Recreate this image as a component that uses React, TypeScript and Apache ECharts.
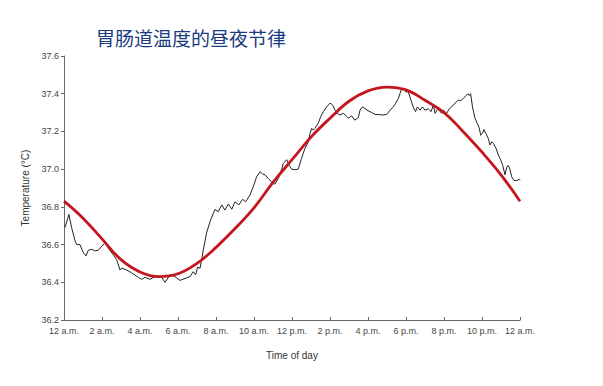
import React, { useEffect, useRef } from "react";
import * as echarts from "echarts";

const titleText = "胃肠道温度的昼夜节律";
const yAxisName = "Temperature (°C)";
const xAxisName = "Time of day";
const xTickLabels = [
  "12 a.m.", "2 a.m.", "4 a.m.", "6 a.m.", "8 a.m.", "10 a.m.", "12 p.m.",
  "2 p.m.", "4 p.m.", "6 p.m.", "8 p.m.", "10 p.m.", "12 a.m.",
];

// measured temperature (hours since midnight, °C)
const tempHours = [
  0.05, 0.26, 0.4, 0.58, 0.67, 0.84, 1.0, 1.16, 1.28, 1.46, 1.63, 1.8, 1.98, 2.16, 2.33, 2.6, 2.77, 2.95, 3.03, 3.3,
  3.56, 3.91, 4.09, 4.26, 4.53, 4.79, 5.05, 5.14, 5.32, 5.58, 5.84, 6.1, 6.37, 6.63, 6.8, 6.93, 7.03, 7.16, 7.33, 7.5,
  7.68, 7.86, 7.95, 8.12, 8.3, 8.47, 8.65, 8.83, 9.0, 9.2, 9.4, 9.56, 9.79, 9.96, 10.14, 10.32, 10.46, 10.58, 10.75, 10.93,
  11.1, 11.28, 11.46, 11.54, 11.72, 11.86, 11.98, 12.16, 12.33, 12.5, 12.68, 12.86, 12.95, 13.04, 13.12, 13.2, 13.38, 13.51, 13.65, 13.82,
  14.0, 14.14, 14.26, 14.38, 14.53, 14.7, 14.88, 14.97, 15.14, 15.3, 15.49, 15.58, 15.7, 15.84, 16.0, 16.2, 16.37, 16.54, 16.8, 16.98,
  17.16, 17.33, 17.46, 17.6, 17.68, 17.77, 17.86, 17.98, 18.12, 18.26, 18.38, 18.5, 18.6, 18.74, 18.86, 19.0, 19.17, 19.32, 19.44, 19.53,
  19.67, 19.88, 19.96, 20.14, 20.28, 20.4, 20.58, 20.75, 20.88, 21.02, 21.16, 21.25, 21.33, 21.4, 21.5, 21.63, 21.75, 21.86, 21.93, 22.03,
  22.1, 22.2, 22.33, 22.42, 22.51, 22.6, 22.74, 22.86, 22.98, 23.09, 23.21, 23.3, 23.38, 23.47, 23.56, 23.68, 23.83, 23.96, 24.0,
];
const tempValues = [
  36.69, 36.76, 36.69, 36.62, 36.6, 36.6, 36.56, 36.54, 36.57, 36.575, 36.566, 36.57, 36.59, 36.61, 36.58, 36.545, 36.52, 36.465, 36.475, 36.465,
  36.45, 36.426, 36.416, 36.426, 36.416, 36.43, 36.43, 36.426, 36.4, 36.44, 36.43, 36.41, 36.42, 36.43, 36.456, 36.44, 36.48, 36.474, 36.57, 36.66,
  36.72, 36.766, 36.787, 36.774, 36.81, 36.783, 36.815, 36.787, 36.827, 36.81, 36.84, 36.827, 36.863, 36.907, 36.96, 36.986, 36.974, 36.97, 36.95, 36.933,
  36.92, 36.95, 37.0, 37.03, 37.05, 37.02, 37.0, 36.997, 37.0, 37.057, 37.11, 37.145, 37.19, 37.216, 37.207, 37.216, 37.243, 37.278, 37.305, 37.33,
  37.35, 37.34, 37.313, 37.296, 37.287, 37.296, 37.28, 37.27, 37.283, 37.26, 37.273, 37.313, 37.33, 37.322, 37.31, 37.3, 37.29, 37.29, 37.287, 37.29,
  37.313, 37.33, 37.35, 37.375, 37.4, 37.425, 37.43, 37.41, 37.41, 37.366, 37.33, 37.305, 37.33, 37.313, 37.33, 37.313, 37.32, 37.305, 37.34, 37.296,
  37.32, 37.296, 37.313, 37.296, 37.32, 37.33, 37.35, 37.366, 37.363, 37.375, 37.39, 37.4, 37.39, 37.4, 37.33, 37.27, 37.243, 37.216, 37.18, 37.19,
  37.21, 37.19, 37.163, 37.128, 37.145, 37.137, 37.11, 37.075, 37.05, 37.02, 36.97, 37.01, 37.02, 37.0, 36.96, 36.94, 36.94, 36.946, 36.94,
];

// fitted circadian curve (hourly)
const fitHours = [0, 1, 2, 3, 4, 5, 6, 7, 8, 9, 10, 11, 12, 13, 14, 15, 16, 17, 18, 19, 20, 21, 22, 23, 24];
const fitValues = [
  36.83, 36.74, 36.63, 36.52, 36.455, 36.43, 36.445, 36.5, 36.585, 36.685, 36.795, 36.93, 37.05,
  37.17, 37.27, 37.36, 37.415, 37.435, 37.42, 37.365, 37.3, 37.2, 37.09, 36.97, 36.83,
];

export default function App() {
  const ref = useRef<HTMLDivElement>(null);
  useEffect(() => {
    if (!ref.current) return;
    const chart = echarts.init(ref.current, undefined, { renderer: "svg" });
    const labelFont = { fontFamily: "Liberation Sans, Arial, sans-serif", color: "#444", fontSize: 9 };
    chart.setOption({
      animation: false,
      backgroundColor: "#fff",
      title: {
        text: titleText,
        left: 91,
        top: 23,
        textStyle: {
          fontFamily: "Noto Sans CJK SC",
          fontSize: 19,
          fontWeight: "normal",
          color: "#1b3a80",
        },
      },
      grid: { left: 64, right: 83, top: 56, bottom: 66 },
      xAxis: {
        type: "value",
        min: 0,
        max: 24,
        interval: 2,
        name: xAxisName,
        nameLocation: "middle",
        nameGap: 30,
        nameTextStyle: { ...labelFont, fontSize: 10, color: "#333" },
        axisLine: { show: true, lineStyle: { color: "#666", width: 1 } },
        axisTick: { show: true, inside: true, length: 3, lineStyle: { color: "#666" } },
        axisLabel: {
          ...labelFont,
          margin: 6,
          formatter: (v: number) => xTickLabels[Math.round(v / 2)] ?? "",
        },
        splitLine: { show: false },
      },
      yAxis: {
        type: "value",
        min: 36.2,
        max: 37.6,
        interval: 0.2,
        name: yAxisName,
        nameLocation: "middle",
        nameGap: 32,
        nameRotate: 90,
        nameTextStyle: { ...labelFont, fontSize: 10, color: "#333" },
        axisLine: { show: true, lineStyle: { color: "#666", width: 1 } },
        axisTick: { show: true, inside: false, length: 3, lineStyle: { color: "#666" } },
        axisLabel: { ...labelFont, margin: 5, formatter: (v: number) => v.toFixed(1) },
        splitLine: { show: false },
      },
      series: [
        {
          type: "line",
          name: "measured",
          data: tempHours.map((h, i) => [h, tempValues[i]]),
          showSymbol: false,
          lineStyle: { color: "#222", width: 1 },
          z: 2,
        },
        {
          type: "line",
          name: "fit",
          data: fitHours.map((h, i) => [h, fitValues[i]]),
          smooth: 0.4,
          showSymbol: false,
          lineStyle: { color: "#c4161c", width: 2.8 },
          z: 3,
        },
      ],
    });
    return () => chart.dispose();
  }, []);
  return (
    <div
      ref={ref}
      style={{ position: "absolute", left: 0, top: 0, width: 603, height: 386 }}
    />
  );
}
